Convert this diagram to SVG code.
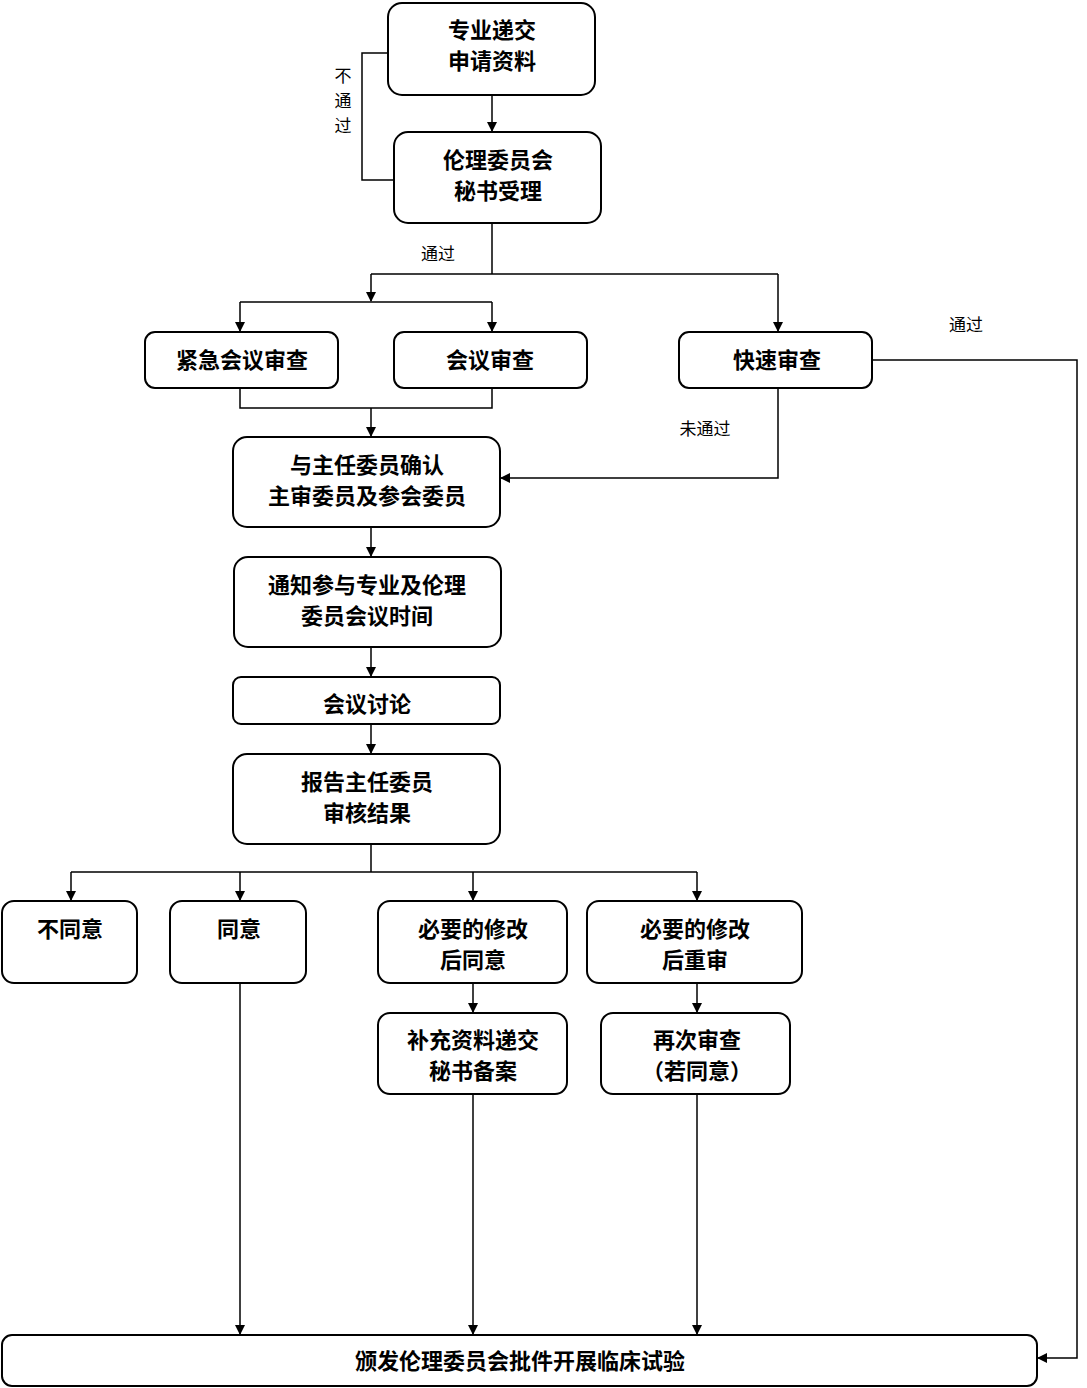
<svg xmlns="http://www.w3.org/2000/svg" width="1087" height="1388" viewBox="0 0 1087 1388">
<style>
.n{fill:#fff;stroke:#000;stroke-width:2}
.t{font-family:"Noto Sans CJK SC",sans-serif;font-weight:bold;font-size:22px;text-anchor:middle;fill:#000}
.s{font-family:"Noto Sans CJK SC",sans-serif;font-size:17px;text-anchor:middle;fill:#000}
.c{fill:none;stroke:#000;stroke-width:1.5}
</style>
<defs><marker id="a" markerWidth="10" markerHeight="10" refX="9" refY="5" orient="auto" markerUnits="userSpaceOnUse"><path d="M0,0 L10,5 L0,10 z" fill="#000"/></marker></defs>
<rect width="1087" height="1388" fill="#fff"/>
<g id="connectors">
<path class="c" d="M492,95 V131" marker-end="url(#a)"/>
<path class="c" d="M388,53 H362 V180 H394"/>
<path class="c" d="M492,223 V274 M371,274 H778"/>
<path class="c" d="M371,274 V301" marker-end="url(#a)"/>
<path class="c" d="M240,302 H492"/>
<path class="c" d="M240,302 V331" marker-end="url(#a)"/>
<path class="c" d="M492,302 V331" marker-end="url(#a)"/>
<path class="c" d="M778,274 V331" marker-end="url(#a)"/>
<path class="c" d="M240,388 V408 H492 V388"/>
<path class="c" d="M371,408 V436" marker-end="url(#a)"/>
<path class="c" d="M778,388 V478 H501" marker-end="url(#a)"/>
<path class="c" d="M872,360 H1077 V1358 H1038" marker-end="url(#a)"/>
<path class="c" d="M371,527 V556" marker-end="url(#a)"/>
<path class="c" d="M371,647 V676" marker-end="url(#a)"/>
<path class="c" d="M371,724 V753" marker-end="url(#a)"/>
<path class="c" d="M371,844 V872 M71,872 H697"/>
<path class="c" d="M71,872 V900" marker-end="url(#a)"/>
<path class="c" d="M240,872 V900" marker-end="url(#a)"/>
<path class="c" d="M473,872 V900" marker-end="url(#a)"/>
<path class="c" d="M697,872 V900" marker-end="url(#a)"/>
<path class="c" d="M473,983 V1012" marker-end="url(#a)"/>
<path class="c" d="M697,983 V1012" marker-end="url(#a)"/>
<path class="c" d="M240,983 V1334" marker-end="url(#a)"/>
<path class="c" d="M473,1094 V1334" marker-end="url(#a)"/>
<path class="c" d="M697,1094 V1334" marker-end="url(#a)"/>
<text class="s" x="343" y="82">不</text>
<text class="s" x="343" y="107">通</text>
<text class="s" x="343" y="132">过</text>
<text class="s" x="438" y="260">通过</text>
<text class="s" x="705" y="435">未通过</text>
<text class="s" x="966" y="331">通过</text>
</g>
<g id="n1"><rect class="n" x="388" y="3" width="207" height="92" rx="14"/><text class="t" x="492" y="38">专业递交</text><text class="t" x="492" y="69">申请资料</text></g>
<g id="n2"><rect class="n" x="394" y="132" width="207" height="91" rx="14"/><text class="t" x="498" y="168">伦理委员会</text><text class="t" x="498" y="199">秘书受理</text></g>
<g id="n3"><rect class="n" x="145" y="332" width="193" height="56" rx="10"/><text class="t" x="242" y="368">紧急会议审查</text></g>
<g id="n4"><rect class="n" x="394" y="332" width="193" height="56" rx="10"/><text class="t" x="490" y="368">会议审查</text></g>
<g id="n5"><rect class="n" x="679" y="332" width="193" height="56" rx="10"/><text class="t" x="777" y="368">快速审查</text></g>
<g id="n6"><rect class="n" x="233" y="437" width="267" height="90" rx="14"/><text class="t" x="367" y="473">与主任委员确认</text><text class="t" x="367" y="504">主审委员及参会委员</text></g>
<g id="n7"><rect class="n" x="234" y="557" width="267" height="90" rx="14"/><text class="t" x="367" y="593">通知参与专业及伦理</text><text class="t" x="367" y="624">委员会议时间</text></g>
<g id="n8"><rect class="n" x="233" y="677" width="267" height="47" rx="8"/><text class="t" x="367" y="712">会议讨论</text></g>
<g id="n9"><rect class="n" x="233" y="754" width="267" height="90" rx="14"/><text class="t" x="367" y="790">报告主任委员</text><text class="t" x="367" y="821">审核结果</text></g>
<g id="n10"><rect class="n" x="2" y="901" width="135" height="82" rx="12"/><text class="t" x="70" y="937">不同意</text></g>
<g id="n11"><rect class="n" x="170" y="901" width="136" height="82" rx="12"/><text class="t" x="239" y="937">同意</text></g>
<g id="n12"><rect class="n" x="378" y="901" width="189" height="82" rx="12"/><text class="t" x="473" y="937">必要的修改</text><text class="t" x="473" y="968">后同意</text></g>
<g id="n13"><rect class="n" x="587" y="901" width="215" height="82" rx="12"/><text class="t" x="695" y="937">必要的修改</text><text class="t" x="695" y="968">后重审</text></g>
<g id="n14"><rect class="n" x="378" y="1013" width="189" height="81" rx="12"/><text class="t" x="473" y="1048">补充资料递交</text><text class="t" x="473" y="1079">秘书备案</text></g>
<g id="n15"><rect class="n" x="601" y="1013" width="189" height="81" rx="12"/><text class="t" x="697" y="1048">再次审查</text><text class="t" x="697" y="1079">（若同意）</text></g>
<g id="n16"><rect class="n" x="2" y="1335" width="1035" height="51" rx="10"/><text class="t" x="520" y="1369">颁发伦理委员会批件开展临床试验</text></g>
</svg>
